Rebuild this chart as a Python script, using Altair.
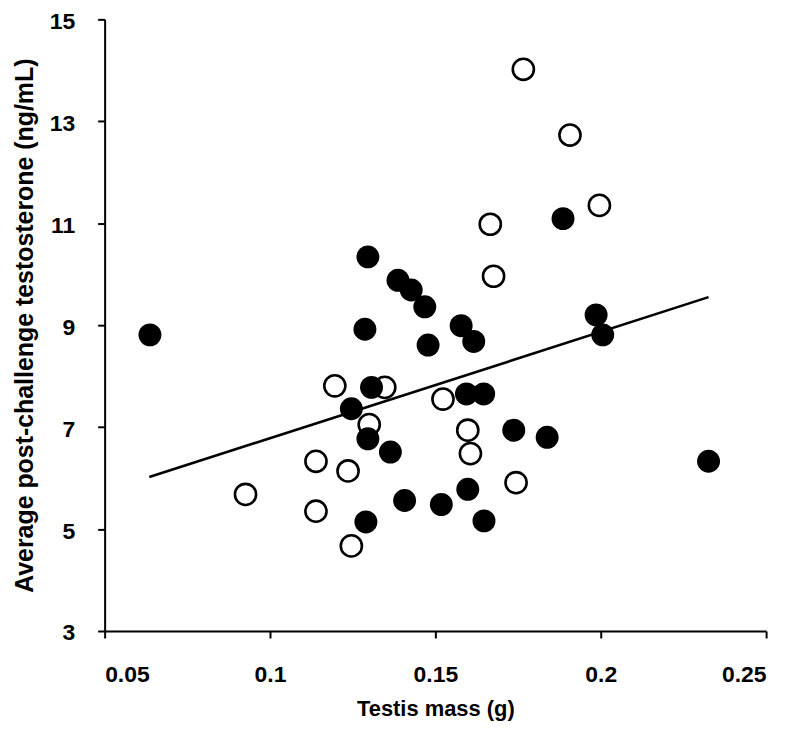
import altair as alt
import pandas as pd

# Filled circles
filled_x = [0.0637, 0.1296, 0.1287, 0.1387, 0.1427, 0.1468, 0.1478, 0.1578, 0.1616,
            0.1886, 0.1986, 0.2006, 0.1307, 0.1246, 0.1594, 0.1646, 0.1296, 0.1364,
            0.1737, 0.1838, 0.1598, 0.1407, 0.1518, 0.1647, 0.1290, 0.2326]
filled_y = [8.81, 10.34, 8.92, 9.88, 9.69, 9.36, 8.61, 8.99, 8.68,
            11.09, 9.20, 8.81, 7.78, 7.36, 7.65, 7.65, 6.77, 6.51,
            6.94, 6.80, 5.78, 5.56, 5.48, 5.16, 5.14, 6.33]

# Open circles
open_x = [0.1766, 0.1907, 0.1996, 0.1666, 0.1676, 0.1196, 0.1347, 0.1523, 0.1300,
          0.1598, 0.1606, 0.1139, 0.1236, 0.1744, 0.1139, 0.1246, 0.0926]
open_y = [14.02, 12.73, 11.35, 10.98, 9.96, 7.81, 7.78, 7.55, 7.05,
          6.94, 6.48, 6.33, 6.14, 5.91, 5.35, 4.67, 5.68]

# Fitted line end points
fit_x = [0.0635, 0.2326]
fit_y = [6.02, 9.55]

x_ticks = [0.05, 0.1, 0.15, 0.2, 0.25]
y_ticks = [3, 5, 7, 9, 11, 13, 15]

filled_df = pd.DataFrame({"x": filled_x, "y": filled_y})
open_df = pd.DataFrame({"x": open_x, "y": open_y})
fit_df = pd.DataFrame({"x": fit_x, "y": fit_y})

xs = alt.Scale(domain=[0.05, 0.25], nice=False, zero=False)
ys = alt.Scale(domain=[3, 15], nice=False, zero=False)

xax = alt.Axis(values=x_ticks, format="~g", title="Testis mass (g)",
               labelPadding=26, titlePadding=12)
yax = alt.Axis(values=y_ticks, format="~g",
               title="Average post-challenge testosterone (ng/mL)",
               labelPadding=23, titlePadding=12, titleFontSize=25,
               labelOffset=2)

X = alt.X("x:Q", scale=xs, axis=xax)
Y = alt.Y("y:Q", scale=ys, axis=yax)

open_layer = alt.Chart(open_df).mark_point(
    shape="circle", filled=False, fill="white", stroke="black",
    strokeWidth=2.6, size=450, opacity=1
).encode(x=X, y=Y)

filled_layer = alt.Chart(filled_df).mark_circle(
    color="black", size=530, opacity=1
).encode(x=X, y=Y)

fit_layer = alt.Chart(fit_df).mark_line(color="black", strokeWidth=2.6).encode(x=X, y=Y)

chart = alt.layer(open_layer, filled_layer, fit_layer).properties(
    width=664, height=614,
    autosize=alt.AutoSizeParams(type="none"),
    padding={"left": 97, "top": 10, "right": 26, "bottom": 100},
).configure_view(stroke=None).configure_axis(
    grid=False,
    domainColor="black", domainWidth=2,
    tickColor="black", tickWidth=2, tickSize=7,
    labelFont="Liberation Sans", labelFontWeight="bold", labelFontSize=23,
    labelColor="black",
    titleFont="Liberation Sans", titleFontWeight="bold", titleFontSize=22,
    titleColor="black",
)

chart.save("out.html", embed_options={"renderer": "svg", "actions": False})
